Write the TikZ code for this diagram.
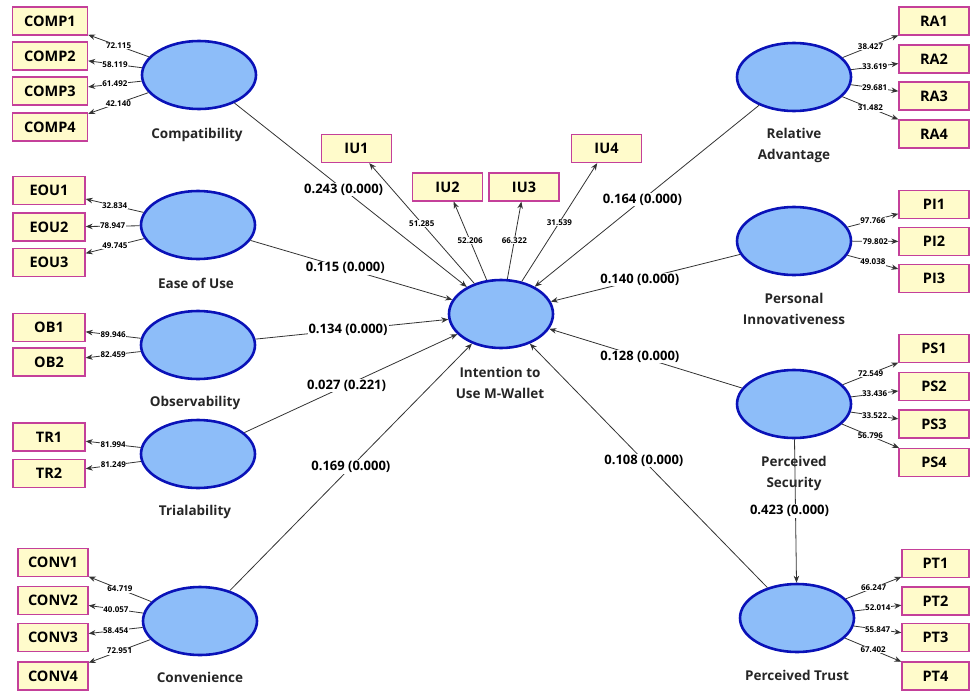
\documentclass[tikz,border=0pt]{standalone}
\usepackage{fontspec}
\setmainfont{Open Sans}
\usetikzlibrary{shapes.geometric,arrows.meta}

\definecolor{latentfill}{HTML}{8DBDF9}
\definecolor{latentdraw}{HTML}{0A12B8}
\definecolor{itemfill}{HTML}{FFFBCB}
\definecolor{itemdraw}{HTML}{C4409A}

\begin{document}
\begin{tikzpicture}
    [
        x = 1pt, y = -1pt,
        latent/.style = {draw = latentdraw, fill = latentfill, ellipse, line width = 2.6pt,
                         minimum width = 114pt, minimum height = 68pt},
        item/.style = {draw = itemdraw, fill = itemfill, line width = 1.3pt, minimum width = 72pt,
                       minimum height = 28pt, font = \fontsize{14.5}{15}\selectfont\bfseries},
        lname/.style = {font = \fontsize{13.5}{21}\selectfont\bfseries, align = center, text = black!85},
        link/.style = {-{Stealth[length = 7pt, width = 5.5pt]}, line width = 0.8pt, draw = black!80},
        coef/.style = {fill = white, inner sep = 1pt, font = \fontsize{13}{13}\selectfont\bfseries},
        load/.style = {fill = white, inner sep = 0.5pt, font = \fontsize{8}{8}\selectfont\bfseries}
    ]
    \useasboundingbox (0,0) rectangle (973,690);

    % latent variables
    \node[latent] (comp) at (199,75) {};
    \node[latent] (eou) at (198,225) {};
    \node[latent] (ob) at (198,345) {};
    \node[latent] (tr) at (198,454) {};
    \node[latent] (conv) at (200,621) {};
    \node[latent, minimum width = 104pt] (iu) at (501,314) {};
    \node[latent] (ra) at (794,77) {};
    \node[latent] (pi) at (794,241) {};
    \node[latent] (ps) at (794,404) {};
    \node[latent] (pt) at (797,618) {};

    \node[lname] at (197,135) {Compatibility};
    \node[lname] at (196,283) {Ease of Use};
    \node[lname] at (195,403) {Observability};
    \node[lname] at (195,512) {Trialability};
    \node[lname] at (200,677) {Convenience};
    \node[lname] at (500,383) {Intention to\\Use M-Wallet};
    \node[lname] at (794,145) {Relative\\Advantage};
    \node[lname] at (794,309) {Personal\\Innovativeness};
    \node[lname] at (794,473) {Perceived\\Security};
    \node[lname] at (797,675) {Perceived Trust};

    % indicators
    \foreach \y/\l [count = \i] in {21/72.115, 56/58.119, 91/61.492, 127/42.140}
        {\node[item, minimum width = 75pt] (comp\i) at (50,\y) {COMP\i};
         \draw[link] (comp) -- node[load] {\l} (comp\i);}
    \foreach \y/\l [count = \i] in {190.5/32.834, 227/78.947, 262.5/49.745}
        {\node[item] (eou\i) at (49,\y) {EOU\i};
         \draw[link] (eou) -- node[load] {\l} (eou\i);}
    \foreach \y/\l [count = \i] in {327.5/89.946, 362/82.459}
        {\node[item] (ob\i) at (49,\y) {OB\i};
         \draw[link] (ob) -- node[load] {\l} (ob\i);}
    \foreach \y/\l [count = \i] in {437/81.994, 473.5/81.249}
        {\node[item] (tr\i) at (49,\y) {TR\i};
         \draw[link] (tr) -- node[load] {\l} (tr\i);}
    \foreach \y/\l [count = \i] in {562.5/64.719, 600.5/40.057, 637.5/58.454, 676/72.951}
        {\node[item, minimum width = 70pt] (conv\i) at (53,\y) {CONV\i};
         \draw[link] (conv) -- node[load] {\l} (conv\i);}
    \foreach \x/\y/\l [count = \i] in {356.5/148.5/51.285, 447.5/187/52.206, 524/187/66.322, 606.5/148.5/31.539}
        {\node[item, minimum width = 70pt] (iu\i) at (\x,\y) {IU\i};
         \draw[link] (iu) -- node[load] {\l} (iu\i);}
    \foreach \y/\l [count = \i] in {21/38.427, 59/33.619, 96/29.681, 134/31.482}
        {\node[item, minimum width = 70pt] (ra\i) at (934,\y) {RA\i};
         \draw[link] (ra) -- node[load] {\l} (ra\i);}
    \foreach \y/\l [count = \i] in {204.5/97.766, 241.5/79.802, 278.5/49.038}
        {\node[item, minimum width = 70pt] (pi\i) at (934,\y) {PI\i};
         \draw[link] (pi) -- node[load] {\l} (pi\i);}
    \foreach \y/\l [count = \i] in {348.5/72.549, 386.5/33.436, 424/33.522, 462.5/56.796}
        {\node[item, minimum width = 70pt] (ps\i) at (934,\y) {PS\i};
         \draw[link] (ps) -- node[load] {\l} (ps\i);}
    \foreach \y/\l [count = \i] in {563.5/66.247, 601/52.014, 637.5/55.847, 676/67.402}
        {\node[item, minimum width = 67pt] (pt\i) at (935.5,\y) {PT\i};
         \draw[link] (pt) -- node[load] {\l} (pt\i);}

    % structural paths
    \draw[link] (comp) -- node[coef, pos = 0.47] {0.243 (0.000)} (iu);
    \draw[link] (eou) -- node[coef, pos = 0.47] {0.115 (0.000)} (iu);
    \draw[link] (ob) -- node[coef, pos = 0.48] {0.134 (0.000)} (iu);
    \draw[link] (tr) -- node[coef, pos = 0.48] {0.027 (0.221)} (iu);
    \draw[link] (conv) -- node[coef, pos = 0.5] {0.169 (0.000)} (iu);
    \draw[link] (ra) -- node[coef, pos = 0.52] {0.164 (0.000)} (iu);
    \draw[link] (pi) -- node[coef, pos = 0.53] {0.140 (0.000)} (iu);
    \draw[link] (ps) -- node[coef, pos = 0.53] {0.128 (0.000)} (iu);
    \draw[link] (pt) -- node[coef, pos = 0.52] {0.108 (0.000)} (iu);
    \draw[link] (ps) -- node[coef, xshift = -6pt] {0.423 (0.000)} (pt);
\end{tikzpicture}
\end{document}
